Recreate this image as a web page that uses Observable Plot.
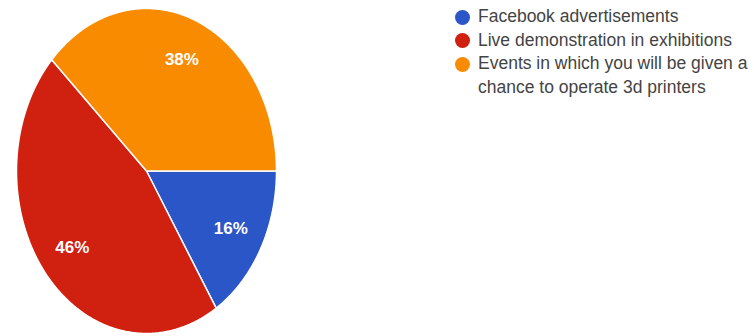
<!DOCTYPE html>
<html>
<head>
<meta charset="utf-8">
<script src="https://cdn.jsdelivr.net/npm/d3@7"></script>
<script src="https://cdn.jsdelivr.net/npm/@observablehq/plot@0.6"></script>
<style>
  body { margin: 0; background: #fff; }
  #wrap { position: relative; width: 754px; height: 336px; }
  #legend { position: absolute; left: 455px; top: 5px; font-family: "Liberation Sans", Arial, sans-serif; font-size: 17.5px; color: #444; }
  .item { display: flex; align-items: flex-start; line-height: 23.5px; }
  .sw { width: 15px; height: 15px; border-radius: 50%; margin-top: 4.5px; margin-right: 8px; flex: none; }
  .lab { width: 295px; white-space: normal; }
</style>
</head>
<body>
<div id="wrap"></div>
<script>
const categories = [
  "Facebook advertisements",
  "Live demonstration in exhibitions",
  "Events in which you will be given a chance to operate 3d printers"
];
const values = [16, 46, 38];
const colors = ["#2b56c8", "#cf2010", "#f98b00"];

const data = categories.map((c, i) => ({cat: c, value: values[i], color: colors[i]}));
const arcs = d3.pie().sort(null).value(d => d.value)
  .startAngle(Math.PI / 2).endAngle(Math.PI / 2 + 2 * Math.PI)(data);

const marks = arcs.map(a => {
  const pts = [{x: 0, y: 0}];
  const n = Math.max(2, Math.ceil((a.endAngle - a.startAngle) / 0.01));
  for (let k = 0; k <= n; k++) {
    const t = a.startAngle + (a.endAngle - a.startAngle) * k / n;
    pts.push({x: Math.sin(t), y: Math.cos(t)});
  }
  pts.push({x: 0, y: 0});
  return Plot.line(pts, {x: "x", y: "y", fill: a.data.color, stroke: "white", strokeWidth: 1.5, strokeLinejoin: "round"});
});

const labelR = 0.74;
marks.push(Plot.text(arcs, {
  x: a => labelR * Math.sin((a.startAngle + a.endAngle) / 2),
  y: a => labelR * Math.cos((a.startAngle + a.endAngle) / 2),
  text: a => a.data.value + "%",
  fill: "white",
  fontWeight: "bold",
  fontSize: 17,
  fontFamily: "Liberation Sans, Arial, sans-serif"
}));

const chart = Plot.plot({
  width: 754,
  height: 336,
  marginLeft: 16,
  marginRight: 478,
  marginTop: 8,
  marginBottom: 3,
  x: {domain: [-1, 1], axis: null},
  y: {domain: [-1, 1], axis: null},
  marks
});

const wrap = document.getElementById("wrap");
wrap.appendChild(chart);

const legend = document.createElement("div");
legend.id = "legend";
data.forEach(d => {
  const it = document.createElement("div");
  it.className = "item";
  const sw = document.createElement("div");
  sw.className = "sw";
  sw.style.background = d.color;
  const lab = document.createElement("div");
  lab.className = "lab";
  lab.textContent = d.cat;
  it.appendChild(sw);
  it.appendChild(lab);
  legend.appendChild(it);
});
wrap.appendChild(legend);
</script>
</body>
</html>
